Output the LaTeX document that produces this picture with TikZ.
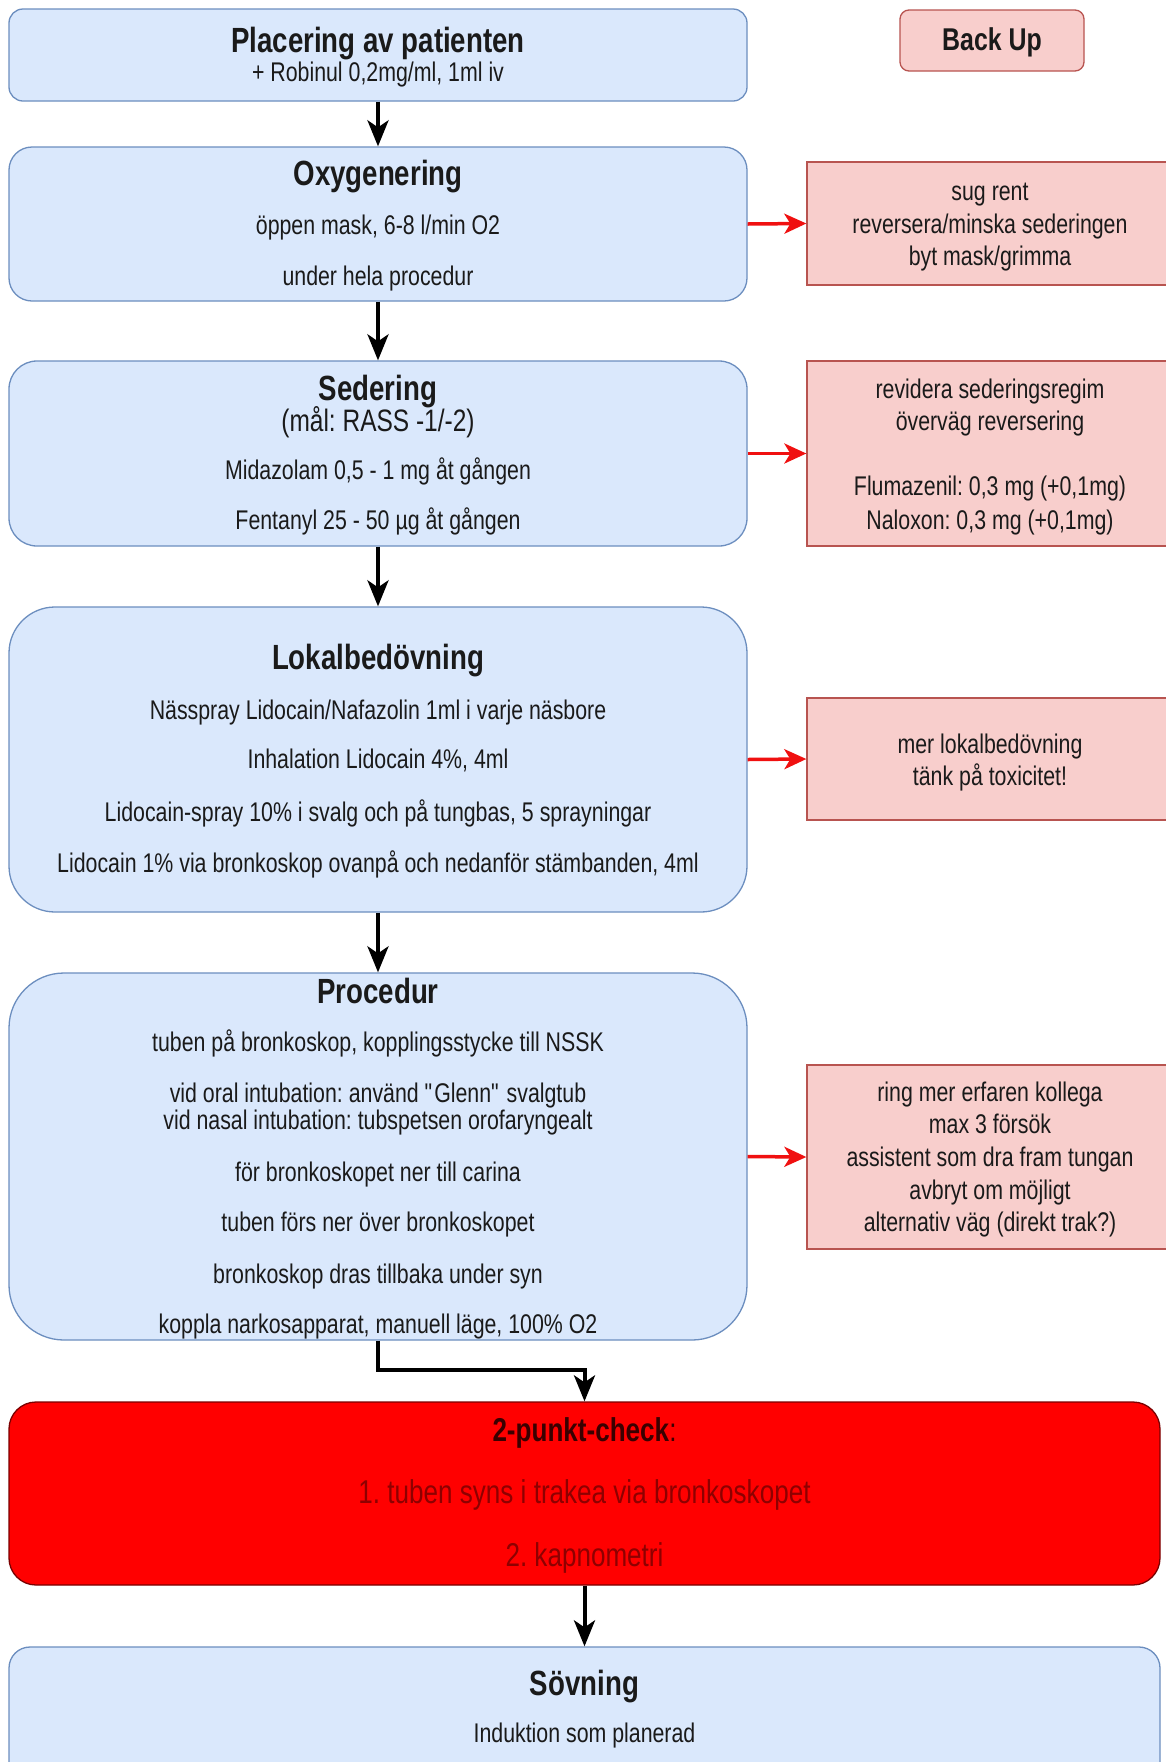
\documentclass[tikz,border=0pt]{standalone}
\usepackage{fontspec}
\setmainfont[FakeStretch=0.79]{Liberation Sans}
\usetikzlibrary{arrows.meta}
\newcommand\strq{\XeTeXglyph\XeTeXcharglyph"22\relax}
\definecolor{bfill}{HTML}{DAE8FC}
\definecolor{bline}{HTML}{6C8EBF}
\definecolor{rfill}{HTML}{F8CECC}
\definecolor{rline}{HTML}{B85450}
\definecolor{txtc}{HTML}{1A1A1A}
\definecolor{chkfill}{HTML}{FF0000}
\definecolor{chkline}{HTML}{7A0000}
\definecolor{chktxt}{HTML}{8E0000}
\definecolor{chktitle}{HTML}{3A0000}
\definecolor{redarrow}{HTML}{F01010}
\begin{document}
\frenchspacing
\begin{tikzpicture}[x=1pt,y=-1pt,
  bluebox/.style={draw=bline, fill=bfill, line width=1.3pt, inner sep=0pt},
  redbox/.style={draw=rline, fill=rfill, line width=1.3pt, inner sep=0pt},
  chkbox/.style={draw=chkline, fill=chkfill, line width=1.3pt, inner sep=0pt},
  body/.style={font=\fontsize{27}{32}\selectfont, text=txtc, inner sep=0pt, text height=19.4pt, text depth=0pt},
  mid/.style={font=\fontsize{31}{37}\selectfont, text=txtc, inner sep=0pt, text height=22.3pt, text depth=0pt},
  ttl/.style={font=\fontsize{35}{42}\selectfont\bfseries, text=txtc, inner sep=0pt, text height=25.2pt, text depth=0pt},
  bkttl/.style={font=\fontsize{31.5}{38}\selectfont\bfseries, text=txtc, inner sep=0pt, text height=22.7pt, text depth=0pt},
  chkttl/.style={font=\fontsize{33}{40}\selectfont\bfseries, text=chktitle, inner sep=0pt, text height=23.8pt, text depth=0pt},
  chkbody/.style={font=\fontsize{33}{40}\selectfont, text=chktxt, inner sep=0pt, text height=23.8pt, text depth=0pt},
  blk/.style={line width=4pt, draw=black, -{Stealth[length=26pt,width=21pt,inset=7pt]}},
  redarr/.style={line width=3.5pt, draw=redarrow, -{Stealth[length=22pt,width=20pt,inset=6pt]}}
]
\useasboundingbox (0,0) rectangle (1166,1762);
\fill[white] (0,0) rectangle (1166,1762);
\clip (0,0) rectangle (1166,1762);

% boxes
\node[bluebox, rounded corners=14pt, minimum width=738pt, minimum height=92pt] (b1) at (378,55) {};
\node[redbox, rounded corners=9pt, minimum width=184pt, minimum height=61pt] (bk) at (992,40.5) {};
\node[bluebox, rounded corners=23pt, minimum width=738pt, minimum height=154pt] (b2) at (378,224) {};
\node[redbox, minimum width=366pt, minimum height=123pt] (r1) at (990,223.5) {};
\node[bluebox, rounded corners=28pt, minimum width=738pt, minimum height=185pt] (b3) at (378,453.5) {};
\node[redbox, minimum width=366pt, minimum height=185pt] (r2) at (990,453.5) {};
\node[bluebox, rounded corners=46pt, minimum width=738pt, minimum height=305pt] (b4) at (378,759.5) {};
\node[redbox, minimum width=366pt, minimum height=122pt] (r3) at (990,759) {};
\node[bluebox, rounded corners=55pt, minimum width=738pt, minimum height=367pt] (b5) at (378,1156.5) {};
\node[redbox, minimum width=366pt, minimum height=184pt] (r4) at (990,1157) {};
\node[chkbox, rounded corners=27pt, minimum width=1151pt, minimum height=183pt] (chk) at (584.5,1493.5) {};
\node[bluebox, rounded corners=21pt, minimum width=1151pt, minimum height=140pt] (sov) at (584.5,1717) {};

% texts
\node[ttl] (t1a) at (378,40) {Placering av patienten};
\node[body] (t1b) at (378,72) {+ Robinul 0,2mg/ml, 1ml iv};
\node[bkttl] (tbk) at (992,39) {Back Up};

\node[ttl] (t2a) at (378,173) {Oxygenering};
\node[body] (t2b) at (378,225) {öppen mask, 6-8 l/min O2};
\node[body] (t2c) at (378,276) {under hela procedur};

\node[body] (r1a) at (990,191) {sug rent};
\node[body] (r1b) at (990,224) {reversera/minska sederingen};
\node[body] (r1c) at (990,256) {byt mask/grimma};

\node[ttl] (t3a) at (378,388) {Sedering};
\node[mid] (t3b) at (378,420) {(mål: RASS -1/-2)};
\node[body] (t3c) at (378,470) {Midazolam 0,5 - 1 mg åt gången};
\node[body] (t3d) at (378,520) {Fentanyl 25 - 50 µg åt gången};

\node[body] (r2a) at (990,389) {revidera sederingsregim};
\node[body] (r2b) at (990,421) {överväg reversering};
\node[body] (r2c) at (990,486) {Flumazenil: 0,3 mg (+0,1mg)};
\node[body] (r2d) at (990,520) {Naloxon: 0,3 mg (+0,1mg)};

\node[ttl] (t4a) at (378,657) {Lokalbedövning};
\node[body] (t4b) at (378,710) {Nässpray Lidocain/Nafazolin 1ml i varje näsbore};
\node[body] (t4c) at (378,759) {Inhalation Lidocain 4\%, 4ml};
\node[body] (t4d) at (378,812) {Lidocain-spray 10\% i svalg och på tungbas, 5 sprayningar};
\node[body] (t4e) at (378,863) {Lidocain 1\% via bronkoskop ovanpå och nedanför stämbanden, 4ml};

\node[body] (r3a) at (990,744) {mer lokalbedövning};
\node[body] (r3b) at (990,776) {tänk på toxicitet!};

\node[ttl] (t5a) at (378,991) {Procedur};
\node[body] (t5b) at (378,1042) {tuben på bronkoskop, kopplingsstycke till NSSK};
\node[body] (t5c) at (378,1093) {vid oral intubation: använd \strq Glenn\strq{} svalgtub};
\node[body] (t5d) at (378,1120) {vid nasal intubation: tubspetsen orofaryngealt};
\node[body] (t5e) at (378,1172) {för bronkoskopet ner till carina};
\node[body] (t5f) at (378,1222) {tuben förs ner över bronkoskopet};
\node[body] (t5g) at (378,1274) {bronkoskop dras tillbaka under syn};
\node[body] (t5h) at (378,1324) {koppla narkosapparat, manuell läge, 100\% O2};

\node[body] (r4a) at (990,1092) {ring mer erfaren kollega};
\node[body] (r4b) at (990,1124) {max 3 försök};
\node[body] (r4c) at (990,1157) {assistent som dra fram tungan};
\node[body] (r4d) at (990,1190) {avbryt om möjligt};
\node[body] (r4e) at (990,1222) {alternativ väg (direkt trak?)};

\node[chkttl] (c1) at (584.5,1430) {2-punkt-check\textmd{:}};
\node[chkbody] (c2) at (584.5,1492) {1. tuben syns i trakea via bronkoskopet};
\node[chkbody] (c3) at (584.5,1555) {2. kapnometri};

\node[ttl] (s1) at (584.5,1683) {Sövning};
\node[body] (s2) at (584.5,1733) {Induktion som planerad};

% connectors
\coordinate (elb) at (584.5,1370);
\draw[blk] (b1.south) -- (b2.north);
\draw[blk] (b2.south) -- (b3.north);
\draw[blk] (b3.south) -- (b4.north);
\draw[blk] (b4.south) -- (b5.north);
\draw[blk] (b5.south) |- (elb) -- (chk.north);
\draw[blk] (chk.south) -- (sov.north);

\draw[redarr] (b2.east) -- (r1.west);
\draw[redarr] (b3.east) -- (r2.west);
\draw[redarr] (b4.east) -- (r3.west);
\draw[redarr] (b5.east) -- (r4.west);
\end{tikzpicture}
\end{document}
